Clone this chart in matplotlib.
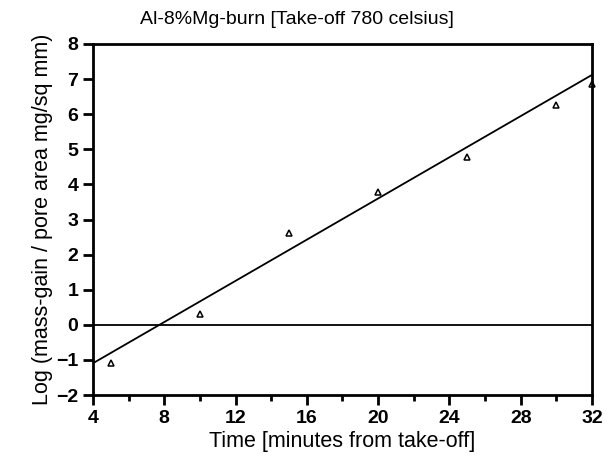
import numpy as np
import matplotlib.pyplot as plt

# measured points (time in minutes, log mass-gain / pore area)
time_min = [5, 10, 15, 20, 25, 30, 32]
log_gain = [-1.08, 0.31, 2.62, 3.79, 4.77, 6.27, 6.87]

# fitted line end points
fit_x = [4.05, 32]
fit_y = [-1.08, 7.12]

x_ticks = [4, 8, 12, 16, 20, 24, 28, 32]
y_ticks = [-2, -1, 0, 1, 2, 3, 4, 5, 6, 7, 8]

plt.rcParams['font.family'] = ['Liberation Sans', 'DejaVu Sans']

fig = plt.figure(figsize=(6.07, 4.63), dpi=100)
ax = fig.add_axes([93 / 607, (463 - 395) / 463, 499 / 607, 351 / 463])

ax.axhline(0, color='black', lw=1.3)
ax.plot(fit_x, fit_y, color='black', lw=1.3)
ax.plot(time_min, log_gain, linestyle='none', marker='^', markersize=5,
        markerfacecolor='none', markeredgecolor='black', markeredgewidth=1.1,
        clip_on=False)

ax.set_xlim(4, 32)
ax.set_ylim(-2, 8)
ax.set_xticks(x_ticks)
ax.set_xticks([6, 10, 14, 18, 22, 26, 30], minor=True)
ax.set_yticks(y_ticks)
ax.set_yticklabels([str(v).replace('-', '\u2212') for v in y_ticks])

for s in ax.spines.values():
    s.set_linewidth(2)
ax.tick_params(which='major', direction='out', length=7, width=2, labelsize=14)
ax.tick_params(which='minor', direction='out', length=4.5, width=2)
for lab in ax.get_xticklabels() + ax.get_yticklabels():
    lab.set_fontweight('bold')

fig.text(297 / 607, 1 - 20 / 463, 'Al-8%Mg-burn [Take-off 780 celsius]',
         fontsize=14, ha='center', va='center')
ax.set_xlabel('Time [minutes from take-off]', fontsize=15.5, labelpad=3)
ax.set_ylabel('Log (mass-gain / pore area mg/sq mm)', fontsize=15.5, labelpad=2)

fig.savefig('out.png', dpi=100)
